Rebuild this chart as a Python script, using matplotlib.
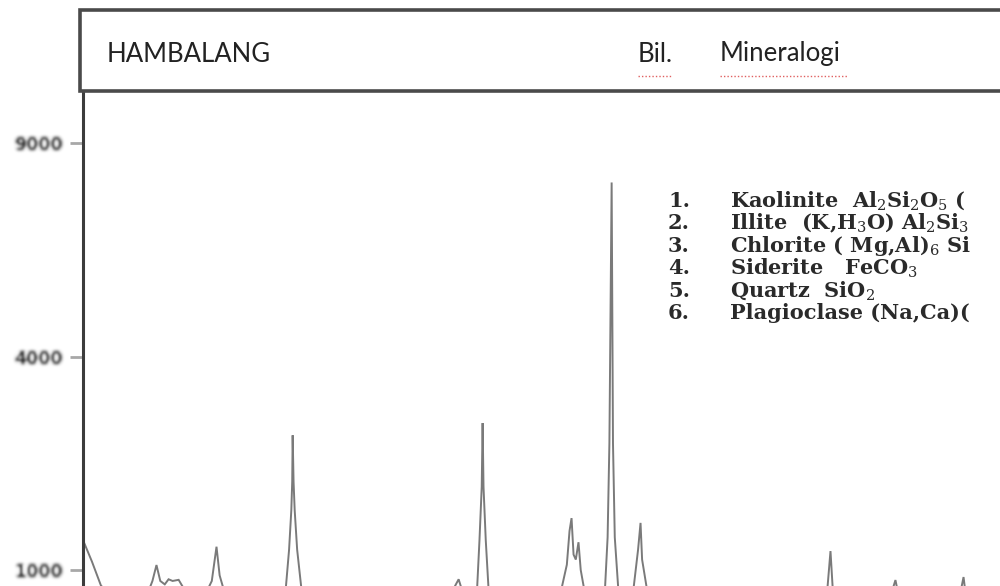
import numpy as np
import matplotlib
matplotlib.use("Agg")
import matplotlib.pyplot as plt
from matplotlib.patches import Rectangle
from matplotlib.lines import Line2D

# Diffractogram of the HAMBALANG sample (2-theta in degrees, counts)
two_theta = [3.00, 3.40, 3.80, 4.30, 4.80, 5.40, 5.90, 6.10, 6.28, 6.45,
             6.65, 6.82, 7.00, 7.27, 7.45, 7.90, 8.50, 8.75, 8.96, 9.10,
             9.35, 10.0, 10.8, 11.5, 12.0, 12.2, 12.3, 12.34, 12.36, 12.40,
             12.45, 12.56, 12.78, 13.5, 14.5, 15.5, 16.5, 17.5, 18.5, 19.3,
             19.62, 19.77, 19.92, 20.3, 20.58, 20.70, 20.80, 20.84, 20.88, 20.98,
             21.12, 21.6, 22.5, 23.5, 24.3, 24.6, 24.72, 24.81, 24.90, 25.00,
             25.12, 25.22, 25.40, 26.0, 26.30, 26.42, 26.50, 26.60, 26.66, 26.74,
             26.90, 27.2, 27.55, 27.78, 27.89, 27.96, 28.2, 29.0, 30.0, 31.0,
             31.9, 32.4, 33.5, 34.5, 35.5, 36.2, 36.37, 36.48, 37.5, 38.5,
             39.1, 39.27, 39.45, 40.5, 41.5, 42.15, 42.31, 42.45, 43.5, 45.0,
             46.5, 48.0, 50.0]
counts = [1300, 1080, 860, 760, 720, 740, 800, 900, 1047, 900,
          870, 915, 900, 910, 850, 780, 800, 900, 1230, 950,
          780, 700, 680, 690, 720, 1200, 1640, 2000, 2660, 2000,
          1640, 1200, 780, 690, 670, 680, 690, 700, 710, 740,
          860, 915, 820, 760, 780, 1300, 1930, 2850, 1930, 1300,
          780, 740, 740, 750, 780, 1050, 1400, 1545, 1150, 1100,
          1277, 1000, 800, 790, 820, 1330, 2540, 7925, 2540, 1330,
          820, 800, 790, 1200, 1490, 1100, 800, 770, 760, 750,
          790, 740, 720, 710, 700, 760, 1185, 800, 690, 690,
          800, 908, 740, 670, 660, 780, 935, 720, 650, 640,
          630, 620, 610]

y_ticks = [1000, 4000, 9000]
y_tick_labels = ["1000", "4000", "9000"]

sample_name = "HAMBALANG"
header_cols = ["Bil.", "Mineralogi"]
mineral_no = ["1.", "2.", "3.", "4.", "5.", "6."]
mineral_txt = [
    r"Kaolinite  Al$_2$Si$_2$O$_5$ (",
    r"Illite  (K,H$_3$O) Al$_2$Si$_3$",
    r"Chlorite ( Mg,Al)$_6$ Si",
    r"Siderite   FeCO$_3$",
    r"Quartz  SiO$_2$",
    r"Plagioclase (Na,Ca)(",
]

plt.rcParams["mathtext.fontset"] = "dejavuserif"

W, H = 1000, 586
fig = plt.figure(figsize=(W / 100, H / 100), dpi=100)
fig.patch.set_facecolor("white")


def px(x, y):
    """pixel (from top-left) -> figure fraction"""
    return x / W, 1 - y / H


def gaussian_blur(sigma):
    r = int(np.ceil(3 * sigma))
    k = np.exp(-0.5 * (np.arange(-r, r + 1) / sigma) ** 2)
    k /= k.sum()

    def _filter(img, dpi):
        a = np.pad(img, ((r, r), (r, r), (0, 0)))
        out = np.zeros_like(a)
        for i, w in enumerate(k):
            out += w * np.roll(a, i - r, axis=0)
        a = out
        out = np.zeros_like(a)
        for i, w in enumerate(k):
            out += w * np.roll(a, i - r, axis=1)
        return out, -r, -r
    return _filter


# plot area: sqrt intensity scale, 2-theta axis starting at 3 degrees
y_zero_px = 783.5
y_top_px = 91.0
x_left_px = 83.0
deg_px = 22.4
x_min, x_max = 3.0, 60.0
ax = fig.add_axes([x_left_px / W, 1 - y_zero_px / H,
                   (x_max - x_min) * deg_px / W, (y_zero_px - y_top_px) / H])
fwd = lambda v: np.sqrt(np.clip(v, 0, None))
inv = lambda v: np.square(v)
ax.set_yscale("function", functions=(fwd, inv))
ymax = (np.sqrt(1000) * (y_zero_px - y_top_px) / (y_zero_px - 570.0)) ** 2
ax.set_ylim(0, ymax)
ax.set_xlim(x_min, x_max)

ax.plot(two_theta, counts, color="#7a7a7a", lw=1.4, solid_joinstyle="miter")

for s in ["top", "right", "bottom"]:
    ax.spines[s].set_visible(False)
ax.spines["left"].set_color("#3c3c3c")
ax.spines["left"].set_linewidth(2.2)
ax.set_xticks([])
ax.set_yticks(y_ticks)
ax.set_yticklabels(y_tick_labels)
ax.tick_params(axis="y", direction="out", length=9.4, width=2.0,
               color="#a8a8a8", pad=5, labelsize=12.5)
for lbl in ax.get_yticklabels():
    lbl.set_fontweight("bold")
    lbl.set_color("#111111")
    lbl.set_agg_filter(gaussian_blur(1.6))

# header strip with sample name and column titles
x0, y0 = px(80, 91)
x1, y1 = px(1015, 10)
fig.patches.append(Rectangle((x0, y0), x1 - x0, y1 - y0, transform=fig.transFigure,
                             facecolor="white", edgecolor="#4a4a4a", lw=2.6, zorder=5))
hx, hy = px(107, 54)
fig.text(hx, hy, sample_name, family="Lato", fontsize=18.5,
         color="#222222", va="center", ha="left", zorder=6)
for label, xp, w in zip(header_cols, [638, 720], [34, 128]):
    tx, ty = px(xp, 54)
    fig.text(tx, ty, label, family="Lato", fontsize=18.5, color="#222222",
             va="center", ha="left", zorder=6)
    lx0, ly = px(xp, 76)
    lx1, _ = px(xp + w, 76)
    fig.add_artist(Line2D([lx0, lx1], [ly, ly], transform=fig.transFigure,
                          color="#e06060", lw=1.0, ls=(0, (1, 1.5)), zorder=6))

# mineral list
for i, (no, txt) in enumerate(zip(mineral_no, mineral_txt)):
    yy = 201 + i * 22.4
    nx, ny = px(668, yy)
    fig.text(nx, ny, no, family="DejaVu Serif", fontweight="bold", fontsize=15,
             color="#2a2a2a", va="center", ha="left")
    tx, _ = px(730, yy)
    fig.text(tx, ny, txt, family="DejaVu Serif", fontweight="bold", fontsize=15,
             color="#2a2a2a", va="center", ha="left")

fig.savefig("out.png", dpi=100, facecolor="white")
